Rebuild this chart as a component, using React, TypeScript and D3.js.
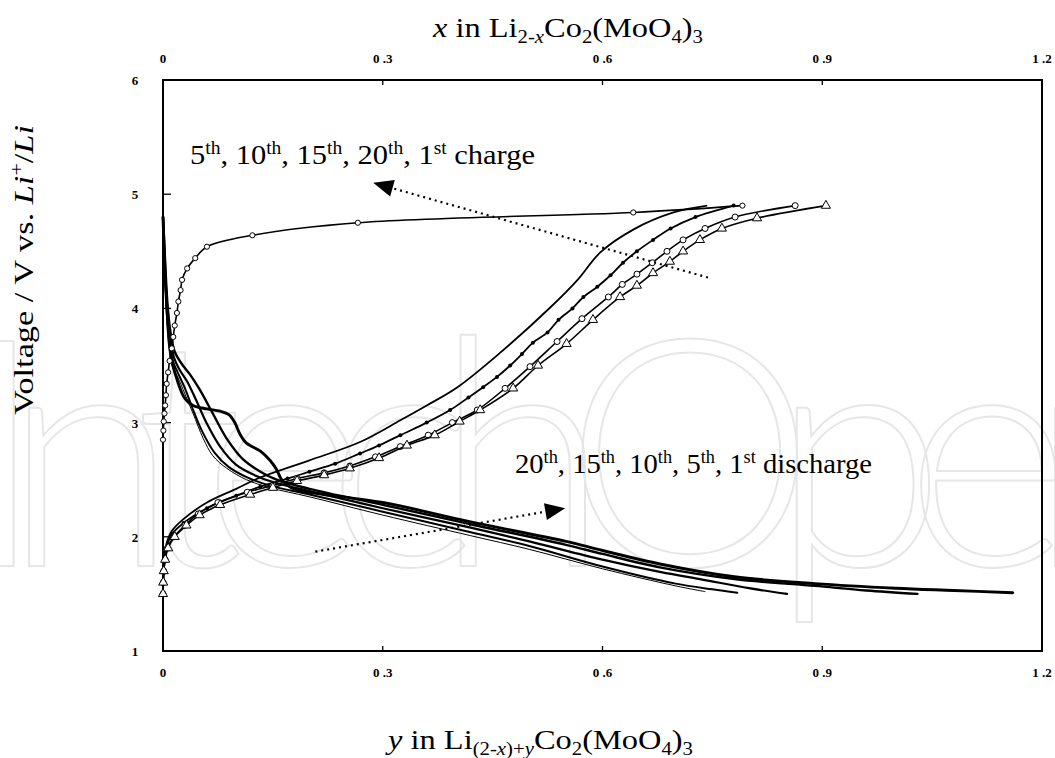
import React from "react";
import * as d3 from "d3";

const W = 1055;
const H = 758;

type P = [number, number];
type Seg = { t: string; sup?: boolean; sub?: boolean; it?: boolean };

// Axis ticks
const X_TICKS = [0, 0.3, 0.6, 0.9, 1.2];
const X_TICK_LABELS = ["0", "0 .3", "0 .6", "0 .9", "1 .2"];
const Y_TICKS = [1, 2, 3, 4, 5, 6];

// Charge curves: [x, voltage]
const charge1st: P[] = [
  [0, 2.85], [0.0005, 2.93], [0.001, 3.01], [0.002, 3.08], [0.003, 3.15], [0.004, 3.24],
  [0.005, 3.34], [0.007, 3.44], [0.009, 3.54], [0.012, 3.65], [0.014, 3.75], [0.016, 3.85],
  [0.019, 3.96], [0.021, 4.06], [0.024, 4.16], [0.026, 4.25], [0.033, 4.35], [0.044, 4.44],
  [0.06, 4.54], [0.122, 4.64], [0.266, 4.75], [0.642, 4.84], [0.791, 4.9],
];
const charge5th: P[] = [
  [0, 1.5], [0.0003, 1.6], [0.001, 1.7], [0.003, 1.8], [0.007, 1.9], [0.016, 2.0], [0.032, 2.1],
  [0.05, 2.19], [0.078, 2.28], [0.119, 2.37], [0.15, 2.43], [0.183, 2.49], [0.22, 2.54],
  [0.255, 2.6], [0.295, 2.69], [0.333, 2.8], [0.371, 2.89], [0.405, 3.01], [0.433, 3.11],
  [0.478, 3.3], [0.512, 3.5], [0.551, 3.69], [0.587, 3.9], [0.624, 4.1], [0.647, 4.2],
  [0.669, 4.31], [0.692, 4.41], [0.71, 4.5], [0.733, 4.6], [0.763, 4.7], [0.811, 4.79], [0.905, 4.9],
];
const charge10th: P[] = [
  [0, 1.5], [0.0003, 1.6], [0.001, 1.7], [0.003, 1.8], [0.006, 1.9], [0.015, 2.0], [0.03, 2.1],
  [0.048, 2.2], [0.075, 2.3], [0.115, 2.39], [0.15, 2.45], [0.183, 2.51], [0.22, 2.56],
  [0.255, 2.62], [0.29, 2.7], [0.324, 2.79], [0.362, 2.89], [0.395, 3.0], [0.429, 3.11],
  [0.467, 3.3], [0.501, 3.49], [0.538, 3.71], [0.572, 3.91], [0.608, 4.1], [0.627, 4.21],
  [0.647, 4.3], [0.668, 4.4], [0.688, 4.5], [0.71, 4.6], [0.74, 4.7], [0.781, 4.8], [0.863, 4.9],
];
const charge15th: P[] = [
  [0, 1.5], [0.001, 1.68], [0.004, 1.88], [0.012, 2.02], [0.028, 2.12], [0.06, 2.25], [0.1, 2.36],
  [0.133, 2.44], [0.17, 2.51], [0.2, 2.57], [0.235, 2.64], [0.269, 2.73], [0.295, 2.8],
  [0.324, 2.89], [0.36, 3.0], [0.392, 3.11], [0.417, 3.22], [0.437, 3.31], [0.456, 3.4],
  [0.474, 3.5], [0.49, 3.6], [0.505, 3.7], [0.525, 3.79], [0.54, 3.9], [0.559, 4.0],
  [0.574, 4.1], [0.593, 4.19], [0.611, 4.29], [0.628, 4.4], [0.647, 4.5], [0.669, 4.6],
  [0.693, 4.7], [0.727, 4.8], [0.779, 4.9],
];
const charge20th: P[] = [
  [0, 1.5], [0.001, 1.72], [0.004, 1.92], [0.012, 2.05], [0.027, 2.15], [0.06, 2.3], [0.1, 2.42],
  [0.133, 2.52], [0.2, 2.67], [0.269, 2.83], [0.324, 3.02], [0.36, 3.15], [0.402, 3.31],
  [0.46, 3.61], [0.529, 4.01], [0.566, 4.25], [0.597, 4.49], [0.642, 4.69], [0.697, 4.84], [0.743, 4.9],
];

// Discharge curves: [y, voltage]
const discharge1st: P[] = [
  [0, 4.8], [0.002, 4.45], [0.004, 4.15], [0.007, 3.85], [0.012, 3.55], [0.021, 3.34], [0.03, 3.21],
  [0.041, 3.15], [0.06, 3.12], [0.078, 3.1], [0.09, 3.07], [0.098, 3.0], [0.105, 2.9], [0.114, 2.82],
  [0.133, 2.75], [0.146, 2.67], [0.155, 2.59], [0.162, 2.5], [0.175, 2.43], [0.2, 2.39], [0.3, 2.3],
  [0.42, 2.13], [0.55, 1.96], [0.6, 1.88], [0.68, 1.76], [0.78, 1.65], [0.89, 1.59], [1.0, 1.55],
  [1.08, 1.53], [1.16, 1.51],
];
const discharge5th: P[] = [
  [0, 4.8], [0.003, 4.4], [0.006, 4.05], [0.01, 3.8], [0.016, 3.62], [0.025, 3.52], [0.037, 3.42],
  [0.05, 3.29], [0.068, 3.08], [0.087, 2.86], [0.109, 2.68], [0.133, 2.57], [0.155, 2.5], [0.2, 2.42],
  [0.3, 2.28], [0.42, 2.11], [0.55, 1.93], [0.6, 1.85], [0.68, 1.73], [0.78, 1.63], [0.89, 1.57],
  [0.96, 1.53], [1.03, 1.5],
];
const discharge10th: P[] = [
  [0, 4.8], [0.003, 4.3], [0.006, 3.98], [0.01, 3.74], [0.015, 3.57], [0.022, 3.47], [0.033, 3.36],
  [0.045, 3.2], [0.06, 2.99], [0.078, 2.79], [0.1, 2.63], [0.125, 2.54], [0.15, 2.48], [0.2, 2.4],
  [0.3, 2.25], [0.42, 2.08], [0.5, 1.96], [0.6, 1.8], [0.68, 1.69], [0.733, 1.63], [0.8, 1.55], [0.852, 1.5],
];
const discharge15th: P[] = [
  [0, 4.8], [0.003, 4.25], [0.006, 3.93], [0.009, 3.7], [0.014, 3.53], [0.02, 3.44], [0.03, 3.3],
  [0.04, 3.13], [0.053, 2.93], [0.07, 2.74], [0.09, 2.61], [0.115, 2.52], [0.145, 2.45], [0.2, 2.37],
  [0.3, 2.22], [0.42, 2.04], [0.5, 1.92], [0.6, 1.74], [0.7, 1.59], [0.75, 1.54], [0.784, 1.51],
];
const discharge20th: P[] = [
  [0, 4.8], [0.003, 4.2], [0.005, 3.9], [0.008, 3.65], [0.013, 3.48], [0.02, 3.4], [0.03, 3.25],
  [0.041, 3.08], [0.055, 2.86], [0.068, 2.71], [0.087, 2.6], [0.114, 2.5], [0.146, 2.43], [0.2, 2.35],
  [0.3, 2.19], [0.42, 2.01], [0.5, 1.89], [0.6, 1.72], [0.7, 1.57], [0.74, 1.52],
];

// Trend arrows: [start, tip] in data units
const chargeArrow: P[] = [[0.744, 4.27], [0.287, 5.1]];
const dischargeArrow: P[] = [[0.208, 1.87], [0.549, 2.25]];

// Text content
const topTitle: Seg[] = [
  { t: "x", it: true }, { t: " in Li" }, { t: "2-", sub: true }, { t: "x", sub: true, it: true },
  { t: "Co" }, { t: "2", sub: true }, { t: "(MoO" }, { t: "4", sub: true }, { t: ")" }, { t: "3", sub: true },
];
const bottomTitle: Seg[] = [
  { t: "y", it: true }, { t: " in Li" }, { t: "(2-", sub: true }, { t: "x", sub: true, it: true },
  { t: ")+", sub: true }, { t: "y", sub: true, it: true }, { t: "Co" }, { t: "2", sub: true },
  { t: "(MoO" }, { t: "4", sub: true }, { t: ")" }, { t: "3", sub: true },
];
const leftTitle: Seg[] = [
  { t: "Voltage / V vs. " }, { t: "Li", it: true }, { t: "+", sup: true }, { t: "/" }, { t: "Li", it: true },
];
const chargeNote: Seg[] = [
  { t: "5" }, { t: "th", sup: true }, { t: ", 10" }, { t: "th", sup: true }, { t: ", 15" },
  { t: "th", sup: true }, { t: ", 20" }, { t: "th", sup: true }, { t: ", 1" }, { t: "st", sup: true },
  { t: " charge" },
];
const dischargeNote: Seg[] = [
  { t: "20" }, { t: "th", sup: true }, { t: ", 15" }, { t: "th", sup: true }, { t: ", 10" },
  { t: "th", sup: true }, { t: ", 5" }, { t: "th", sup: true }, { t: ", 1" }, { t: "st", sup: true },
  { t: " discharge" },
];

const SERIF = "'Liberation Serif', 'Times New Roman', serif";

function Rich({ segs, size, x, y, width, transform, anchor = "start" }: {
  segs: Seg[]; size: number; x: number; y: number; width?: number; transform?: string; anchor?: string;
}) {
  let shift = 0;
  const spans = segs.map((s, i) => {
    const target = s.sup ? -size * 0.36 : s.sub ? size * 0.2 : 0;
    const dy = target - shift;
    shift = target;
    return (
      <tspan key={i} dy={dy} fontSize={s.sup || s.sub ? size * 0.64 : size}
        fontStyle={s.it ? "italic" : "normal"}>{s.t}</tspan>
    );
  });
  return (
    <text x={x} y={y} transform={transform} fontFamily={SERIF} fontSize={size}
      textAnchor={anchor} fill="#000"
      textLength={width} lengthAdjust={width ? "spacingAndGlyphs" : undefined}>{spans}</text>
  );
}

export default function App() {
  const x = d3.scaleLinear().domain([0, 1.2]).range([163, 1042]);
  const y = d3.scaleLinear().domain([1, 6]).range([651, 80]);
  const line = d3.line<P>().x((d) => x(d[0])).y((d) => y(d[1])).curve(d3.curveCatmullRom.alpha(0.5));
  const tri = d3.symbol().type(d3.symbolTriangle).size(36)() as string;

  const discharges: { data: P[]; w: number }[] = [
    { data: discharge20th, w: 1.0 },
    { data: discharge15th, w: 2.0 },
    { data: discharge10th, w: 2.2 },
    { data: discharge5th, w: 2.4 },
    { data: discharge1st, w: 2.9 },
  ];

  const arrow = (pts: P[], key: string) => {
    const [a, b] = pts;
    const x1 = x(a[0]), y1 = y(a[1]), x2 = x(b[0]), y2 = y(b[1]);
    const ang = Math.atan2(y2 - y1, x2 - x1);
    const len = 20, half = 8.5;
    const bx = x2 - len * Math.cos(ang), by = y2 - len * Math.sin(ang);
    const px = -Math.sin(ang) * half, py = Math.cos(ang) * half;
    return (
      <g key={key}>
        <line x1={x1} y1={y1} x2={bx} y2={by} stroke="#000" strokeWidth={2.2} strokeDasharray="2 4" />
        <path d={`M${x2},${y2}L${bx + px},${by + py}L${bx - px},${by - py}Z`} fill="#000" />
      </g>
    );
  };

  return (
    <svg width={W} height={H} style={{ position: "absolute", left: 0, top: 0, background: "#fff" }}>
      <rect width={W} height={H} fill="#fff" />
      {/* publisher mark */}
      <text x={-36} y={566} fontFamily="Lato, 'Open Sans', sans-serif" fontWeight={300} fontSize={318}
        fill="none" stroke="#e6e6e6" strokeWidth={2} textLength={1240} lengthAdjust="spacing">IntechOpen</text>

      {/* frame */}
      <rect x={x(0)} y={y(6)} width={x(1.2) - x(0)} height={y(1) - y(6)} fill="none" stroke="#000" strokeWidth={2} />
      {Y_TICKS.slice(1, -1).map((t) => (
        <line key={`yt${t}`} x1={x(0)} x2={x(0) + 8} y1={y(t)} y2={y(t)} stroke="#000" strokeWidth={1.3} />
      ))}
      {X_TICKS.slice(1, -1).map((t) => (
        <g key={`xt${t}`}>
          <line x1={x(t)} x2={x(t)} y1={y(6)} y2={y(6) + 5} stroke="#000" strokeWidth={1.3} />
          <line x1={x(t)} x2={x(t)} y1={y(1)} y2={y(1) - 5} stroke="#000" strokeWidth={1.3} />
        </g>
      ))}
      {X_TICKS.map((t, i) => (
        <g key={`xl${t}`} fontFamily={SERIF} fontWeight="bold" fontSize={13} textAnchor="middle">
          <text x={x(t)} y={63}>{X_TICK_LABELS[i]}</text>
          <text x={x(t)} y={677}>{X_TICK_LABELS[i]}</text>
        </g>
      ))}
      {Y_TICKS.map((t) => (
        <text key={`yl${t}`} x={135} y={y(t) + 5} fontFamily={SERIF} fontWeight="bold" fontSize={13} textAnchor="middle">{t}</text>
      ))}

      {/* discharge curves */}
      {discharges.map((s, i) => (
        <path key={`d${i}`} d={line(s.data) as string} fill="none" stroke="#000" strokeWidth={s.w} strokeLinejoin="round" strokeLinecap="round" />
      ))}

      {/* charge curves */}
      <path d={line(charge20th) as string} fill="none" stroke="#000" strokeWidth={1.8} />
      <path d={line(charge15th) as string} fill="none" stroke="#000" strokeWidth={1.8} />
      {charge15th.map((d, i) => (
        <circle key={`c15${i}`} cx={x(d[0])} cy={y(d[1])} r={2} fill="#000" />
      ))}
      <path d={line(charge10th) as string} fill="none" stroke="#000" strokeWidth={1.6} />
      {charge10th.map((d, i) => (
        <circle key={`c10${i}`} cx={x(d[0])} cy={y(d[1])} r={3} fill="#fff" stroke="#000" strokeWidth={1} />
      ))}
      <path d={line(charge5th) as string} fill="none" stroke="#000" strokeWidth={1.6} />
      {charge5th.map((d, i) => (
        <path key={`c5${i}`} d={tri} transform={`translate(${x(d[0])},${y(d[1])})`} fill="#fff" stroke="#000" strokeWidth={1} />
      ))}
      <path d={line(charge1st) as string} fill="none" stroke="#000" strokeWidth={1.6} />
      {charge1st.map((d, i) => (
        <circle key={`c1${i}`} cx={x(d[0])} cy={y(d[1])} r={2.6} fill="#fff" stroke="#000" strokeWidth={1} />
      ))}

      {arrow(chargeArrow, "ca")}
      {arrow(dischargeArrow, "da")}

      <Rich segs={chargeNote} size={28} x={190} y={164} width={345} />
      <Rich segs={dischargeNote} size={28} x={515} y={473} width={357} />

      <Rich segs={topTitle} size={28} x={433} y={37} width={270} />
      <Rich segs={bottomTitle} size={28} x={388} y={749} width={305} />
      <Rich segs={leftTitle} size={28} x={0} y={0} width={290} anchor="middle" transform="translate(33,270) rotate(-90)" />
    </svg>
  );
}
